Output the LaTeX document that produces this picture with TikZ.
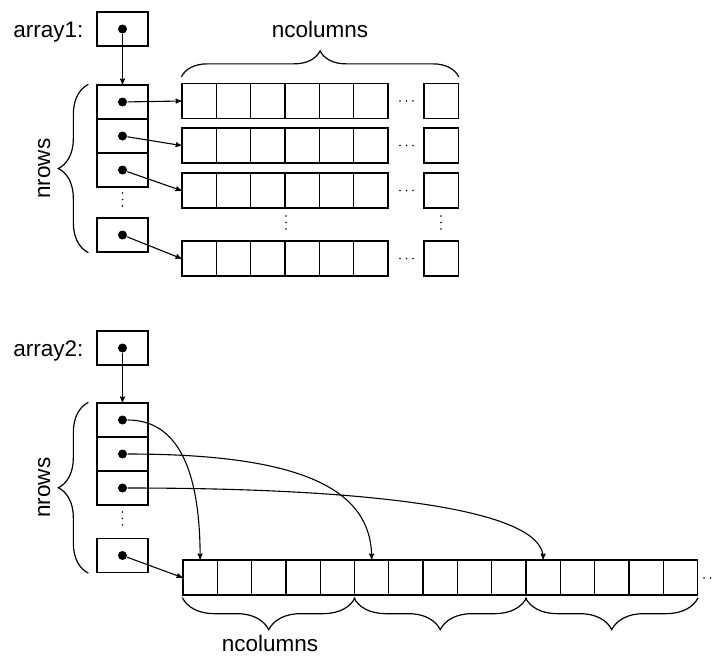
\documentclass[tikz,border=0pt]{standalone}
\usepackage{fontspec}
\setmainfont{Liberation Sans}
\usetikzlibrary{arrows,decorations.pathreplacing}

\begin{document}
\begin{tikzpicture}[->,>=stealth',x=1pt,y=-1pt,line width=1.1pt,
        font=\fontsize{22.5}{27}\selectfont,
        cell/.style={draw,-,minimum width=34.3pt,minimum height=35pt,inner sep=0pt,line width=1.3pt},
        ptr/.style={draw,-,minimum width=51pt,minimum height=34pt,inner sep=0pt,line width=1.3pt},
        pdot/.style={circle,fill,inner sep=0pt,minimum size=9pt},
        lbl/.style={inner sep=0pt},
        brc/.style={-,line width=1.2pt,decorate,decoration={brace,amplitude=#1}},
        dts/.style={-,line width=1.6pt,line cap=round,dash pattern=on 0pt off 6.5pt}]
                \useasboundingbox (0,0) rectangle (712,657);
                % array1
                \node[lbl,anchor=base east](L1)at(84,37){array1:};
                \node[ptr](a1)at(122.5,29){};
                \node[pdot](a1d)at(122.5,29){};
                \foreach \y [count=\i] in {102,136,170,235} {
                    \node[ptr](p\i)at(122.5,\y){};
                    \node[pdot](t\i)at(122.5,\y){};
                }
                \foreach \y [count=\r] in {101,145.5,190.5,258.5} {
                    \foreach \c in {1,...,6}
                        \node[cell](r\r-\c)at({182+34.33*(\c-0.5)},\y){};
                    \node[cell](r\r-7)at(441,\y){};
                    \draw[dts](400,\y)--(414,\y);
                }
                \draw[dts](122.5,193)--(122.5,211);
                \draw[dts](286,216)--(286,230);
                \draw[dts](441,216)--(441,230);
                \draw(a1d)--(p1.north);
                \foreach \i in {1,...,4}
                    \draw(t\i)--(r\i-1.west);
                \draw[brc=26]([yshift=6pt]r1-1.north west)--([yshift=6pt]r1-7.north east);
                \node[lbl,anchor=base](n1)at(320,37){ncolumns};
                \draw[brc=30]([xshift=-8pt]p4.south west)--([xshift=-8pt]p1.north west);
                \node[lbl,anchor=base,rotate=90](nr1)at(50,168.5){nrows};
                % array2
                \node[lbl,anchor=base east](L2)at(84,356){array2:};
                \node[ptr](a2)at(122.5,348){};
                \node[pdot](a2d)at(122.5,348){};
                \foreach \y [count=\i] in {420,454,488,555.5} {
                    \node[ptr](q\i)at(122.5,\y){};
                    \node[pdot](b\i)at(122.5,\y){};
                }
                \foreach \c in {1,...,15}
                    \node[cell](c\c)at({183+34.3*(\c-0.5)},577.5){};
                \draw[dts](704,578)--(718,578);
                \draw[dts](122.5,512)--(122.5,530);
                \draw(a2d)--(q1.north);
                \draw(b1) .. controls +(55,0) and +(0,-90) .. (c1.north);
                \draw(b2) .. controls +(180,0) and +(0,-70) .. (c6.north);
                \draw(b3) .. controls +(250,0) and +(0,-50) .. (c11.north);
                \draw(b4)--(c1.west);
                \draw[brc=32]([yshift=-2pt]c5.south east)--([yshift=-2pt]c1.south west);
                \draw[brc=32]([yshift=-2pt]c10.south east)--([yshift=-2pt]c6.south west);
                \draw[brc=32]([yshift=-2pt]c15.south east)--([yshift=-2pt]c11.south west);
                \node[lbl,anchor=base](n2)at(270,651){ncolumns};
                \draw[brc=30]([xshift=-8pt]q4.south west)--([xshift=-8pt]q1.north west);
                \node[lbl,anchor=base,rotate=90](nr2)at(50,487.5){nrows};
            \end{tikzpicture}
\end{document}
